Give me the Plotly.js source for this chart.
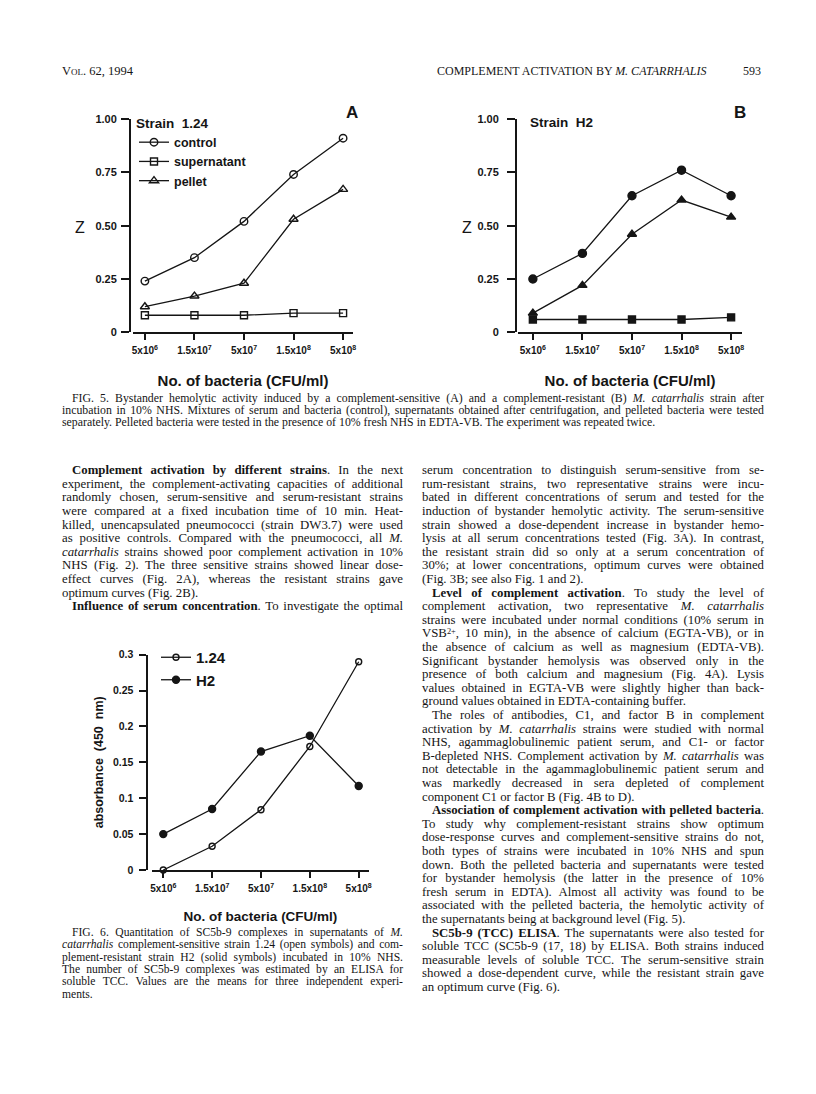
<!DOCTYPE html>
<html><head><meta charset="utf-8">
<script src="https://cdn.plot.ly/plotly-3.0.1.min.js"></script>
<style>
html,body{margin:0;padding:0;background:#fff;}
#page{position:relative;width:816px;height:1094px;overflow:hidden;background:#fff;}
#chart{position:absolute;left:0;top:0;width:816px;height:1094px;}
#text{position:absolute;left:0;top:0;width:816px;height:1094px;pointer-events:none;}
.t{position:absolute;font-family:"Liberation Serif","Times New Roman",serif;color:#151515;white-space:nowrap;line-height:1;}
.sp{font-size:65%;position:relative;top:-0.45em;line-height:0;vertical-align:baseline;}
</style></head>
<body><div id="page"><div id="chart"></div><div id="text"></div></div>
<script>
// ---------- DATA ----------
const categories = ['5x10<sup>6</sup>', '1.5x10<sup>7</sup>', '5x10<sup>7</sup>', '1.5x10<sup>8</sup>', '5x10<sup>8</sup>'];
const strainA_control     = [0.24, 0.35, 0.52, 0.74, 0.91];
const strainA_supernatant = [0.08, 0.08, 0.08, 0.09, 0.09];
const strainA_pellet      = [0.12, 0.17, 0.23, 0.53, 0.67];
const strainB_control     = [0.25, 0.37, 0.64, 0.76, 0.64];
const strainB_supernatant = [0.06, 0.06, 0.06, 0.06, 0.07];
const strainB_pellet      = [0.09, 0.22, 0.46, 0.62, 0.54];
const tcc_124 = [0, 0.033, 0.084, 0.172, 0.29];
const tcc_H2  = [0.05, 0.085, 0.165, 0.187, 0.117];
const zTickVals = [0, 0.25, 0.5, 0.75, 1];
const zTickText = ['0', '0.25', '0.50', '0.75', '1.00'];
const absTickVals = [0, 0.05, 0.1, 0.15, 0.2, 0.25, 0.3];
const absTickText = ['0', '0.05', '0.1', '0.15', '0.2', '0.25', '0.3'];
const xTitle = 'No. of bacteria (CFU/ml)';

// ---------- TEXT ----------
const headerLeft = 'Vol. 62, 1994';
const headerRight = 'COMPLEMENT ACTIVATION BY <i>M. CATARRHALIS</i>';
const pageNo = '593';
const cap5Lines = [
 'FIG. 5. Bystander hemolytic activity induced by a complement-sensitive (A) and a complement-resistant (B) <i>M. catarrhalis</i> strain after',
 'incubation in 10% NHS. Mixtures of serum and bacteria (control), supernatants obtained after centrifugation, and pelleted bacteria were tested',
 'separately. Pelleted bacteria were tested in the presence of 10% fresh NHS in EDTA-VB. The experiment was repeated twice.'
];
const cap5Indent = [0]; const cap5Last = [2];
const cap6Lines = [
 'FIG. 6. Quantitation of SC5b-9 complexes in supernatants of <i>M.</i>',
 '<i>catarrhalis</i> complement-sensitive strain 1.24 (open symbols) and com-',
 'plement-resistant strain H2 (solid symbols) incubated in 10% NHS.',
 'The number of SC5b-9 complexes was estimated by an ELISA for',
 'soluble TCC. Values are the means for three independent experi-',
 'ments.'
];
const cap6Indent = [0]; const cap6Last = [5];
const leftLines = [
 '<b>Complement activation by different strains</b>. In the next',
 'experiment, the complement-activating capacities of additional',
 'randomly chosen, serum-sensitive and serum-resistant strains',
 'were compared at a fixed incubation time of 10 min. Heat-',
 'killed, unencapsulated pneumococci (strain DW3.7) were used',
 'as positive controls. Compared with the pneumococci, all <i>M.</i>',
 '<i>catarrhalis</i> strains showed poor complement activation in 10%',
 'NHS (Fig. 2). The three sensitive strains showed linear dose-',
 'effect curves (Fig. 2A), whereas the resistant strains gave',
 'optimum curves (Fig. 2B).',
 '<b>Influence of serum concentration</b>. To investigate the optimal'
];
const leftIndent = [0, 10]; const leftLast = [9];
const rightLines = [
 'serum concentration to distinguish serum-sensitive from se-',
 'rum-resistant strains, two representative strains were incu-',
 'bated in different concentrations of serum and tested for the',
 'induction of bystander hemolytic activity. The serum-sensitive',
 'strain showed a dose-dependent increase in bystander hemo-',
 'lysis at all serum concentrations tested (Fig. 3A). In contrast,',
 'the resistant strain did so only at a serum concentration of',
 '30%; at lower concentrations, optimum curves were obtained',
 '(Fig. 3B; see also Fig. 1 and 2).',
 '<b>Level of complement activation</b>. To study the level of',
 'complement activation, two representative <i>M. catarrhalis</i>',
 'strains were incubated under normal conditions (10% serum in',
 'VSB<span class="sp">2+</span>, 10 min), in the absence of calcium (EGTA-VB), or in',
 'the absence of calcium as well as magnesium (EDTA-VB).',
 'Significant bystander hemolysis was observed only in the',
 'presence of both calcium and magnesium (Fig. 4A). Lysis',
 'values obtained in EGTA-VB were slightly higher than back-',
 'ground values obtained in EDTA-containing buffer.',
 'The roles of antibodies, C1, and factor B in complement',
 'activation by <i>M. catarrhalis</i> strains were studied with normal',
 'NHS, agammaglobulinemic patient serum, and C1- or factor',
 'B-depleted NHS. Complement activation by <i>M. catarrhalis</i> was',
 'not detectable in the agammaglobulinemic patient serum and',
 'was markedly decreased in sera depleted of complement',
 'component C1 or factor B (Fig. 4B to D).',
 '<b>Association of complement activation with pelleted bacteria</b>.',
 'To study why complement-resistant strains show optimum',
 'dose-response curves and complement-sensitive strains do not,',
 'both types of strains were incubated in 10% NHS and spun',
 'down. Both the pelleted bacteria and supernatants were tested',
 'for bystander hemolysis (the latter in the presence of 10%',
 'fresh serum in EDTA). Almost all activity was found to be',
 'associated with the pelleted bacteria, the hemolytic activity of',
 'the supernatants being at background level (Fig. 5).',
 '<b>SC5b-9 (TCC) ELISA</b>. The supernatants were also tested for',
 'soluble TCC (SC5b-9 (17, 18) by ELISA. Both strains induced',
 'measurable levels of soluble TCC. The serum-sensitive strain',
 'showed a dose-dependent curve, while the resistant strain gave',
 'an optimum curve (Fig. 6).'
];
const rightIndent = [9, 18, 25, 34]; const rightLast = [8, 17, 24, 33, 38];

// ---------- CHART ----------
const W = 816, H = 1094;
const px = v => v / W, py = v => 1 - v / H;
const SANS = 'Liberation Sans, Arial, Helvetica, sans-serif';
const INK = '#151515';

function tr(y, xa, ya, name, sym, size, leg, show) {
  return {x: categories, y: y, xaxis: xa, yaxis: ya, name: name, type: 'scatter',
    mode: 'lines+markers', cliponaxis: false, showlegend: show, legend: leg,
    line: {color: INK, width: 1.3},
    marker: {symbol: sym, size: size, color: INK, line: {color: INK, width: 1.4}}};
}
const traces = [
  tr(strainA_control, 'x', 'y', 'control', 'circle-open', 7.5, 'legend', true),
  tr(strainA_supernatant, 'x', 'y', 'supernatant', 'square-open', 7, 'legend', true),
  tr(strainA_pellet, 'x', 'y', 'pellet', 'triangle-up-open', 8, 'legend', true),
  tr(strainB_control, 'x2', 'y2', 'control', 'circle', 8, 'legend', false),
  tr(strainB_supernatant, 'x2', 'y2', 'supernatant', 'square', 7, 'legend', false),
  tr(strainB_pellet, 'x2', 'y2', 'pellet', 'triangle-up', 8, 'legend', false),
  tr(tcc_124, 'x3', 'y3', '1.24', 'circle-open', 6, 'legend2', true),
  tr(tcc_H2, 'x3', 'y3', 'H2', 'circle', 7, 'legend2', true)
];

function xAx(d0, d1, anchor, r, fs, titleSize, standoff) {
  return {domain: [px(d0), px(d1)], anchor: anchor, type: 'category', range: r,
    showline: true, linewidth: 2, linecolor: INK, ticks: 'outside', ticklen: 6, tickwidth: 2, tickcolor: INK,
    showgrid: false, zeroline: false, fixedrange: true, ticklabelstandoff: 2,
    tickfont: {family: SANS, size: fs, color: INK, weight: 'bold'},
    title: {text: xTitle, standoff: standoff, font: {family: SANS, size: titleSize, color: INK, weight: 'bold'}}};
}
function yAx(top, bottom, pos, r, vals, text, fs, tl, lstand, title, tsize, standoff) {
  const a = {domain: [py(bottom), py(top)], anchor: 'free', position: px(pos), range: r,
    tickvals: vals, ticktext: text,
    showline: true, linewidth: 2, linecolor: INK, ticks: 'outside', ticklen: tl, tickwidth: 2, tickcolor: INK,
    showgrid: false, zeroline: false, fixedrange: true, ticklabelstandoff: lstand,
    tickfont: {family: SANS, size: fs, color: INK, weight: 'bold'}};
  if (title) a.title = {text: title, standoff: standoff, font: {family: SANS, size: tsize, color: INK, weight: 'bold'}};
  return a;
}
function note(x, y, text, size, anchor, weight) {
  return {xref: 'paper', yref: 'paper', x: px(x), y: py(y), text: text, showarrow: false,
    xanchor: anchor, yanchor: 'middle', font: {family: SANS, size: size, weight: weight, color: INK}};
}

const layout = {
  width: W, height: H, margin: {l: 0, r: 0, t: 0, b: 0},
  paper_bgcolor: 'rgba(0,0,0,0)', plot_bgcolor: 'rgba(0,0,0,0)',
  font: {family: SANS, color: INK},
  xaxis: xAx(133, 353, 'y', [-0.24, 4.2], 10, 15, 20),
  yaxis: yAx(119, 332.3, 130, [0, 1], zTickVals, zTickText, 11, 8, 2),
  xaxis2: xAx(518, 742, 'y2', [-0.3, 4.22], 10, 15, 20),
  yaxis2: yAx(119, 332.3, 516, [0, 1], zTickVals, zTickText, 11, 8, 6),
  xaxis3: xAx(151.7, 369.3, 'y3', [-0.237, 4.217], 10, 13.5, 19),
  yaxis3: yAx(654.6, 870, 146.5, [0, 0.3], absTickVals, absTickText, 10.5, 7, 3, 'absorbance  (450  nm)', 12.5, 6),
  legend: {x: px(134), y: py(110), xanchor: 'left', yanchor: 'top', bgcolor: 'rgba(0,0,0,0)',
    itemwidth: 30, tracegroupgap: 0,
    title: {text: 'Strain  1.24', font: {family: SANS, size: 13.5, weight: 'bold', color: INK}},
    font: {family: SANS, size: 12.5, weight: 'bold', color: INK}},
  legend2: {x: px(156), y: py(641), xanchor: 'left', yanchor: 'top', bgcolor: 'rgba(0,0,0,0)',
    itemwidth: 30, font: {family: SANS, size: 15, weight: 'bold', color: INK}},
  annotations: [
    note(352, 113, 'A', 17, 'center', 'bold'),
    note(740, 112, 'B', 17, 'center', 'bold'),
    note(528, 123, 'Strain  H2', 13.5, 'left', 'bold'),
    note(80, 227, 'Z', 16, 'center', 'normal'),
    note(467, 227, 'Z', 16, 'center', 'normal')
  ],
  showlegend: true
};

Plotly.newPlot('chart', traces, layout, {staticPlot: true, displayModeBar: false});

// ---------- BODY TEXT ----------
const textDiv = document.getElementById('text');
function placeLine(html, x, yc, width, fs, justify, indent, extraStyle) {
  const d = document.createElement('div');
  d.className = 't';
  d.style.left = (x + indent) + 'px';
  d.style.top = (yc - 0.56 * fs) + 'px';
  d.style.fontSize = fs + 'px';
  if (extraStyle) d.style.cssText += extraStyle;
  d.innerHTML = html;
  textDiv.appendChild(d);
  if (justify) {
    const target = width - indent;
    const nat = d.getBoundingClientRect().width;
    const spaces = (d.textContent.match(/ /g) || []).length;
    if (spaces > 0) d.style.wordSpacing = ((target - nat) / spaces) + 'px';
  }
  return d;
}
function fitSize(lines, width, indents, lasts, base, maxSize) {
  const probe = document.createElement('div');
  probe.className = 't'; probe.style.fontSize = base + 'px';
  textDiv.appendChild(probe);
  const ratios = [];
  lines.forEach((l, i) => {
    if (lasts.indexOf(i) >= 0) return;
    probe.innerHTML = l;
    const w = probe.getBoundingClientRect().width;
    ratios.push((width - (indents.indexOf(i) >= 0 ? 10 : 0)) / w);
  });
  textDiv.removeChild(probe);
  ratios.sort((a, b) => a - b);
  return Math.min(maxSize, base * ratios[Math.floor(ratios.length * 0.3)]);
}
function block(lines, x, width, y0, step, fs, indents, lasts) {
  lines.forEach((l, i) => {
    placeLine(l, x, y0 + i * step, width, fs, lasts.indexOf(i) < 0, indents.indexOf(i) >= 0 ? 10 : 0);
  });
}
placeLine(headerLeft, 62, 72, 0, 12.5, false, 0, 'font-variant:small-caps;');
placeLine(headerRight, 437, 72, 0, 12, false, 0);
const pn = placeLine(pageNo, 0, 72, 0, 12, false, 0);
pn.style.left = (761 - pn.getBoundingClientRect().width) + 'px';

const bodyFs = Math.min(fitSize(leftLines, 341, leftIndent, leftLast, 12, 12.8),
                        fitSize(rightLines, 342, rightIndent, rightLast, 12, 12.8));
const cap5Fs = fitSize(cap5Lines, 702, cap5Indent, cap5Last, 11.3, 11.8);
const cap6Fs = fitSize(cap6Lines, 341, cap6Indent, cap6Last, 11.3, 11.6);
block(cap5Lines, 62, 702, 399.5, 12.3, cap5Fs, cap5Indent, cap5Last);
block(cap6Lines, 62, 341, 933.3, 12.35, cap6Fs, cap6Indent, cap6Last);
block(leftLines, 62, 341, 471.3, 13.6, bodyFs, leftIndent, leftLast);
block(rightLines, 422, 342, 471.3, 13.6, bodyFs, rightIndent, rightLast);
</script>
</body></html>
